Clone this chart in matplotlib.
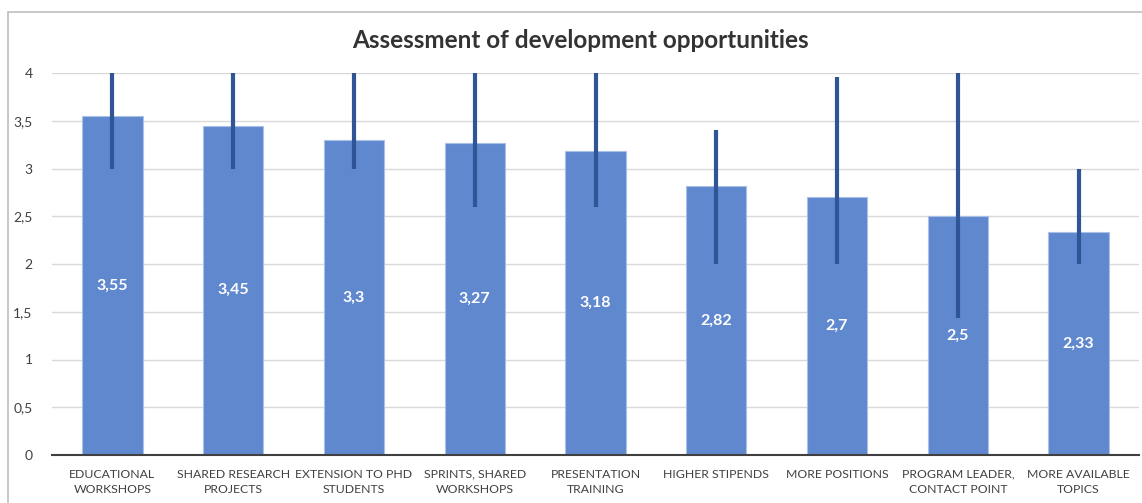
import numpy as np
import matplotlib.pyplot as plt
from matplotlib.patches import Rectangle

plt.rcParams['font.family'] = ['Lato', 'DejaVu Sans']

# 数据
categories = ['EDUCATIONAL\nWORKSHOPS', 'SHARED RESEARCH\nPROJECTS', 'EXTENSION TO PHD\nSTUDENTS',
              'SPRINTS, SHARED\nWORKSHOPS', 'PRESENTATION\nTRAINING', 'HIGHER STIPENDS',
              'MORE POSITIONS', 'PROGRAM LEADER,\nCONTACT POINT', 'MORE AVAILABLE\nTOPICS']
values = [3.55, 3.45, 3.3, 3.27, 3.18, 2.82, 2.7, 2.5, 2.33]
err_low = [3.0, 3.0, 3.0, 2.6, 2.6, 2.0, 2.0, 1.43, 2.0]
err_high = [4.0, 4.0, 4.0, 4.0, 4.0, 3.4, 3.96, 4.0, 3.0]
yticks = [0, 0.5, 1, 1.5, 2, 2.5, 3, 3.5, 4]

fig = plt.figure(figsize=(11.42, 5.03), dpi=100)
ax = fig.add_axes([52 / 1142, 48 / 503, 1087 / 1142, 382 / 503])

x = np.arange(len(categories))
ax.bar(x, values, width=0.5, color='#6088ce', edgecolor='#a9c0e8', linewidth=0.8, zorder=2)

v = np.array(values)
yerr = [v - np.array(err_low), np.array(err_high) - v]
ax.errorbar(x, values, yerr=yerr, fmt='none', ecolor='#2f5597', elinewidth=3, capsize=0, zorder=3)

# 数据标签
for xi, val in zip(x, values):
    ax.text(xi, val / 2, f'{val:g}'.replace('.', ','), ha='center', va='center',
            color='white', fontsize=11.5, fontweight='bold', zorder=4)

ax.set_xlim(-0.5, 8.5)
ax.set_ylim(0, 4)
ax.set_yticks(yticks)
ax.set_yticklabels([f'{t:g}'.replace('.', ',') for t in yticks], fontsize=10, color='#404040')
ax.set_xticks(x)
ax.set_xticklabels(categories, fontsize=8.8, color='#404040', linespacing=1.45)
ax.tick_params(axis='both', length=0)
ax.tick_params(axis='x', pad=10)
ax.tick_params(axis='y', pad=14)
ax.grid(axis='y', color='#d9d9d9', linewidth=1, zorder=0)
for s in ['top', 'right', 'left']:
    ax.spines[s].set_visible(False)
ax.spines['bottom'].set_color('#404040')
ax.spines['bottom'].set_linewidth(1.5)
ax.spines['bottom'].set_zorder(5)

fig.text(580 / 1142, 1 - 40 / 503, 'Assessment of development opportunities', ha='center', va='center',
         fontsize=17.5, fontweight='bold', color='#333333')

# 外框
fig.patches.append(Rectangle((7.5 / 1142, -0.1), 1.2, 1.1 - 12 / 503, transform=fig.transFigure,
                             fill=False, edgecolor='#bfbfbf', linewidth=1.2))

plt.savefig('out.png', dpi=100)
